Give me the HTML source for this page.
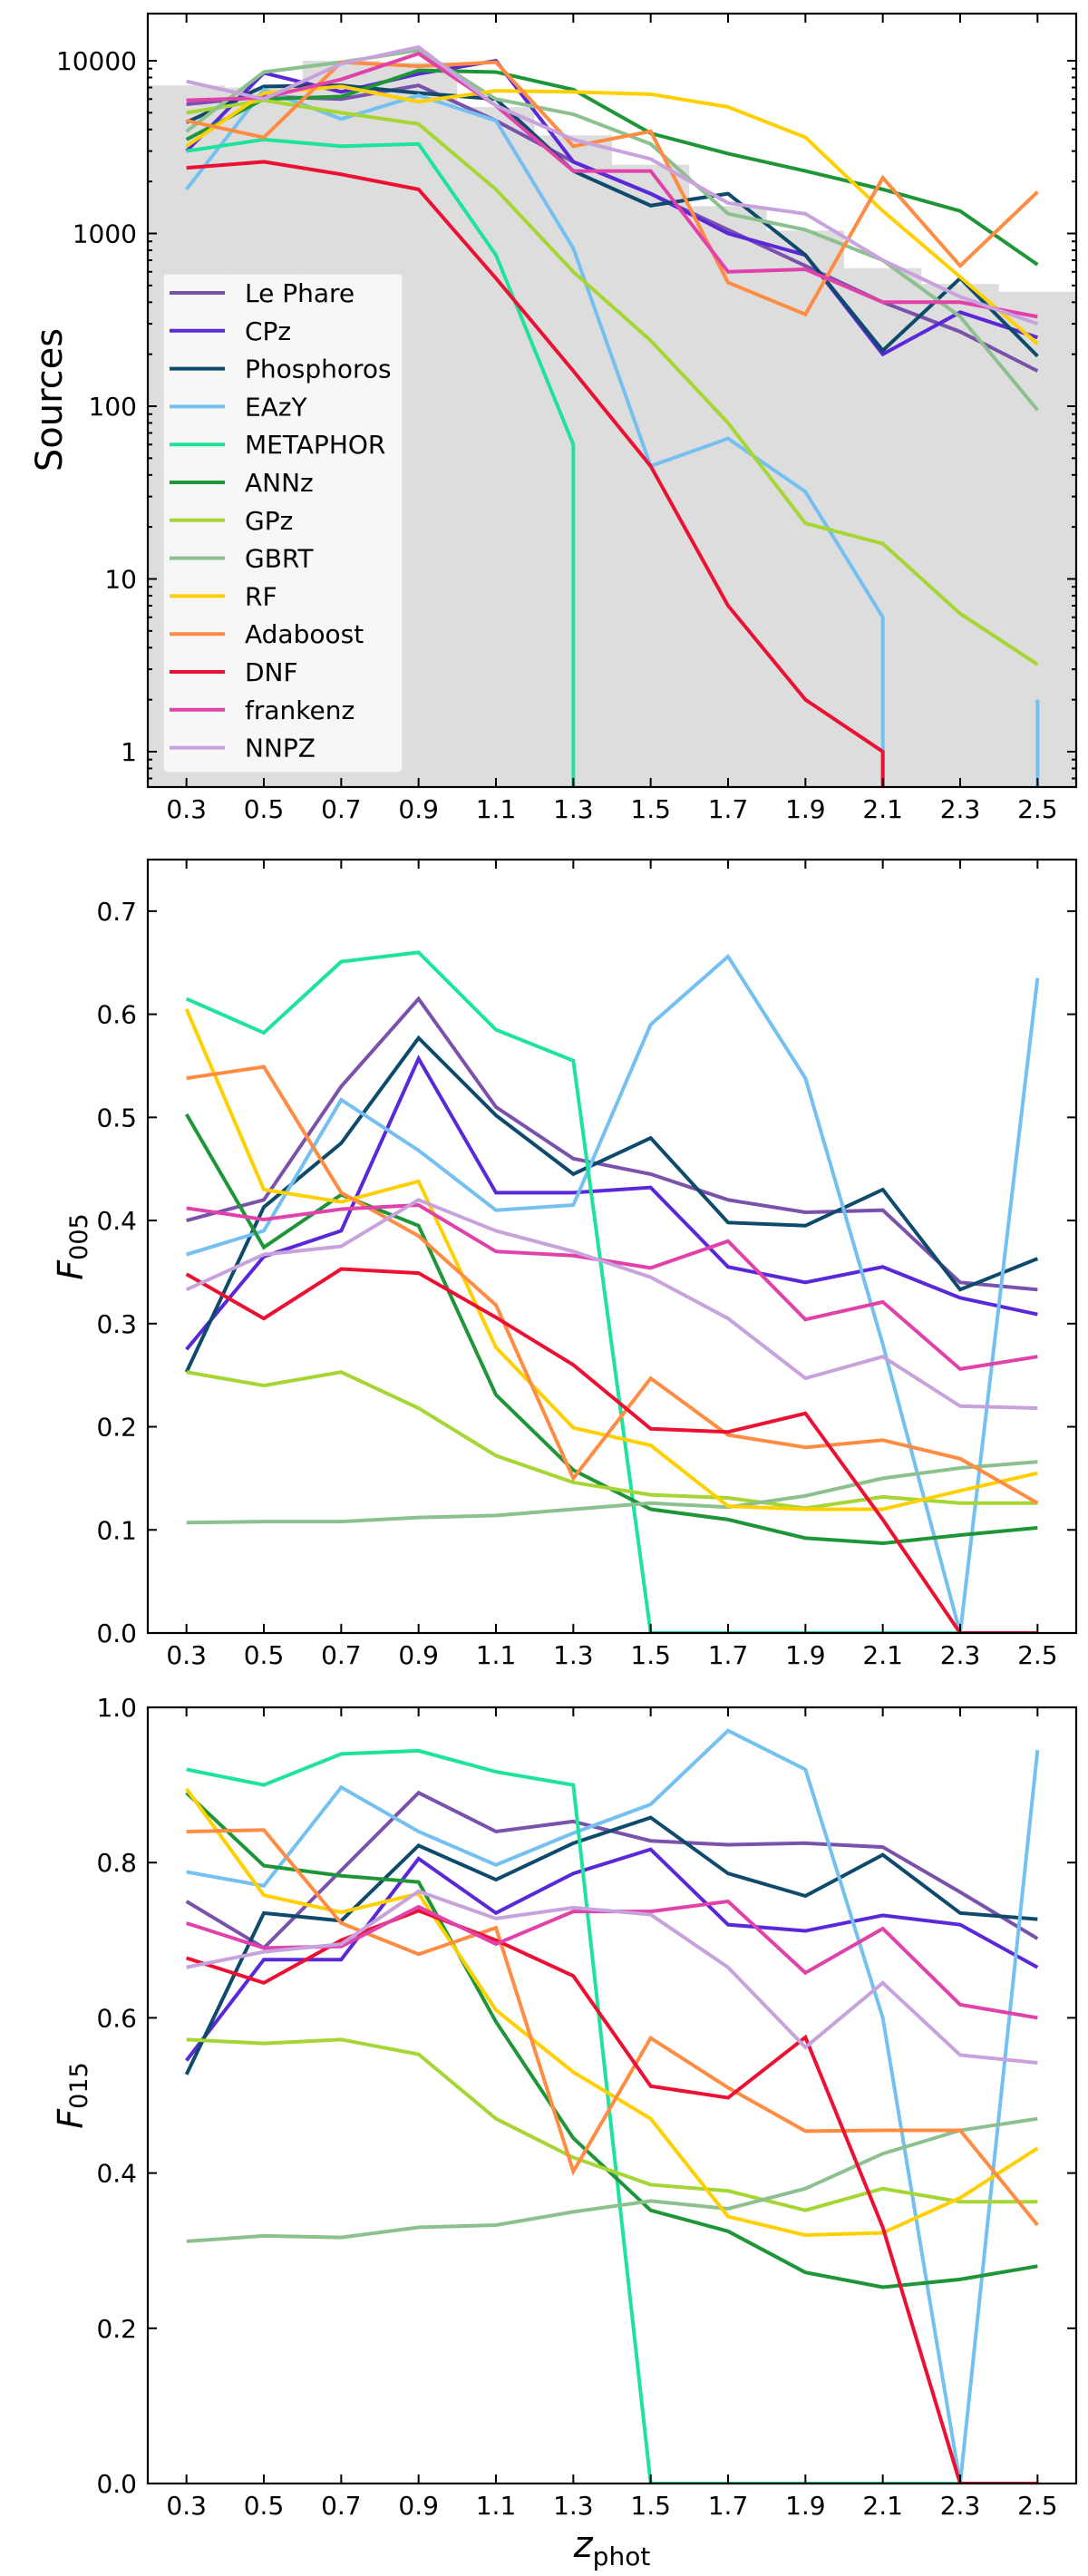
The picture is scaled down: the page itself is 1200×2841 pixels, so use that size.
<!DOCTYPE html>
<html><head><meta charset="utf-8"><style>
html,body{margin:0;padding:0;background:#fff;}
svg{display:block;font-family:"DejaVu Sans","Liberation Sans",sans-serif;}
</style></head><body>
<svg id="fig" width="1200" height="2841" viewBox="0 0 1200 2841" xmlns="http://www.w3.org/2000/svg">
<defs>
<clipPath id="c1"><rect x="163" y="15" width="1024" height="853"/></clipPath>
<clipPath id="c2"><rect x="163" y="948" width="1024" height="853"/></clipPath>
<clipPath id="c3"><rect x="163" y="1883" width="1024" height="856"/></clipPath>
</defs>
<g id="g1"></g>
<g id="g2"></g>
<g id="g3"></g>
<text x="55" y="441" font-size="40" text-anchor="middle" transform="rotate(-90 55 441)" dominant-baseline="central">Sources</text>
<text x="78" y="1375" font-size="38" text-anchor="middle" transform="rotate(-90 78 1375)" dominant-baseline="central"><tspan font-style="italic">F</tspan><tspan font-size="27" dy="9">005</tspan></text>
<text x="78" y="2311" font-size="38" text-anchor="middle" transform="rotate(-90 78 2311)" dominant-baseline="central"><tspan font-style="italic">F</tspan><tspan font-size="27" dy="9">015</tspan></text>
<text x="675" y="2820" font-size="40" text-anchor="middle"><tspan font-style="italic">z</tspan><tspan font-size="28" dy="9">phot</tspan></text>
</svg>
<script>
const zs = [0.3,0.5,0.7,0.9,1.1,1.3,1.5,1.7,1.9,2.1,2.3,2.5];
const xTickLabels = ["0.3","0.5","0.7","0.9","1.1","1.3","1.5","1.7","1.9","2.1","2.3","2.5"];
const names = ["Le Phare","CPz","Phosphoros","EAzY","METAPHOR","ANNz","GPz","GBRT","RF","Adaboost","DNF","frankenz","NNPZ"];
const colors = ["#7b52ab","#5a28d8","#0d4a6b","#74c0f0","#1ee39a","#1e9638","#a6d633","#8cc18f","#ffd000","#ff8c42","#ec1132","#e042aa","#c8a2dd"];
const histEdges = [0.2,0.4,0.6,0.8,1.0,1.2,1.4,1.6,1.8,2.0,2.2,2.4,2.6];
const histCounts = [7200,7000,10000,9800,5400,3700,2500,1440,1040,630,510,460];
const srcLePhare = [5600,6200,6000,7200,4500,2600,1700,1050,650,400,270,160];
const srcCPz = [3000,8500,6600,8400,10000,2600,1700,1000,750,200,350,250];
const srcPhosphoros = [4400,7100,7200,6500,6000,2300,1450,1700,750,210,550,195];
const srcEAzY = [1800,6800,4600,6300,4500,820,45,65,32,6,0,2];
const srcMETAPHOR = [3000,3500,3200,3300,750,60,0,0,0,0,0,0];
const srcANNz = [3500,6000,6200,8800,8600,6800,3800,2900,2300,1800,1350,660];
const srcGPz = [5000,5900,5000,4300,1800,600,240,80,21,16,6.3,3.2];
const srcGBRT = [3900,8600,9800,11500,6000,4900,3300,1300,1050,700,330,95];
const srcRF = [3200,6500,7100,5800,6700,6600,6400,5400,3600,1350,560,230];
const srcAdaboost = [4500,3600,9800,9300,9800,3200,3900,520,340,2100,650,1740];
const srcDNF = [2400,2600,2200,1800,550,160,45,7,2,1,0,0];
const srcFrankenz = [5900,6100,7800,11000,5500,2300,2300,600,620,400,400,330];
const srcNNPZ = [7600,6000,9600,12000,5500,3500,2700,1500,1300,700,430,300];
const f005LePhare = [0.40,0.42,0.53,0.615,0.51,0.46,0.445,0.42,0.408,0.41,0.34,0.333];
const f005CPz = [0.275,0.365,0.39,0.557,0.427,0.427,0.432,0.355,0.34,0.355,0.325,0.309];
const f005Phosphoros = [0.253,0.413,0.475,0.577,0.502,0.445,0.48,0.398,0.395,0.43,0.333,0.363];
const f005EAzY = [0.367,0.39,0.517,0.468,0.41,0.415,0.59,0.656,0.538,0.28,0.0,0.635];
const f005METAPHOR = [0.615,0.582,0.651,0.66,0.585,0.555,0,0,0,0,0,0];
const f005ANNz = [0.503,0.374,0.425,0.395,0.231,0.158,0.12,0.11,0.092,0.087,0.095,0.102];
const f005GPz = [0.253,0.24,0.253,0.218,0.172,0.146,0.134,0.131,0.121,0.132,0.126,0.126];
const f005GBRT = [0.107,0.108,0.108,0.112,0.114,0.12,0.126,0.122,0.133,0.15,0.16,0.166];
const f005RF = [0.605,0.43,0.418,0.438,0.277,0.199,0.182,0.123,0.12,0.12,0.138,0.155];
const f005Adaboost = [0.538,0.549,0.427,0.385,0.318,0.15,0.247,0.192,0.18,0.187,0.169,0.126];
const f005DNF = [0.348,0.305,0.353,0.349,0.306,0.26,0.198,0.195,0.213,0.11,0,0];
const f005Frankenz = [0.412,0.401,0.411,0.415,0.37,0.366,0.354,0.38,0.304,0.321,0.256,0.268];
const f005NNPZ = [0.333,0.367,0.375,0.42,0.39,0.37,0.345,0.305,0.247,0.268,0.22,0.218];
const f015LePhare = [0.75,0.69,0.79,0.89,0.84,0.853,0.828,0.823,0.825,0.82,0.762,0.702];
const f015CPz = [0.545,0.675,0.675,0.805,0.735,0.786,0.817,0.72,0.712,0.732,0.72,0.665];
const f015Phosphoros = [0.527,0.735,0.725,0.822,0.778,0.825,0.858,0.786,0.757,0.81,0.735,0.727];
const f015EAzY = [0.788,0.77,0.897,0.84,0.797,0.838,0.875,0.97,0.92,0.6,0.0,0.945];
const f015METAPHOR = [0.92,0.90,0.94,0.944,0.917,0.9,0,0,0,0,0,0];
const f015ANNz = [0.89,0.796,0.783,0.775,0.595,0.445,0.352,0.325,0.272,0.253,0.263,0.28];
const f015GPz = [0.572,0.567,0.572,0.553,0.47,0.42,0.385,0.377,0.352,0.38,0.363,0.363];
const f015GBRT = [0.312,0.319,0.317,0.33,0.333,0.35,0.364,0.354,0.38,0.425,0.455,0.47];
const f015RF = [0.895,0.758,0.736,0.76,0.61,0.53,0.47,0.344,0.32,0.323,0.368,0.432];
const f015Adaboost = [0.84,0.842,0.722,0.682,0.716,0.402,0.574,0.51,0.454,0.455,0.455,0.333];
const f015DNF = [0.677,0.645,0.7,0.738,0.7,0.654,0.512,0.497,0.575,0.33,0,0];
const f015Frankenz = [0.722,0.69,0.692,0.743,0.695,0.737,0.737,0.75,0.658,0.715,0.617,0.6];
const f015NNPZ = [0.665,0.685,0.695,0.763,0.728,0.742,0.733,0.665,0.562,0.645,0.552,0.542];
const yTicks005 = [0.0,0.1,0.2,0.3,0.4,0.5,0.6,0.7];
const yTicks015 = [0.0,0.2,0.4,0.6,0.8,1.0];
const logTicks = [1,10,100,1000,10000];

const srcSeries = [srcLePhare,srcCPz,srcPhosphoros,srcEAzY,srcMETAPHOR,srcANNz,srcGPz,srcGBRT,srcRF,srcAdaboost,srcDNF,srcFrankenz,srcNNPZ];
const f005Series = [f005LePhare,f005CPz,f005Phosphoros,f005EAzY,f005METAPHOR,f005ANNz,f005GPz,f005GBRT,f005RF,f005Adaboost,f005DNF,f005Frankenz,f005NNPZ];
const f015Series = [f015LePhare,f015CPz,f015Phosphoros,f015EAzY,f015METAPHOR,f015ANNz,f015GPz,f015GBRT,f015RF,f015Adaboost,f015DNF,f015Frankenz,f015NNPZ];

const NS = "http://www.w3.org/2000/svg";
const L = 163, R = 1187;
const X = v => L + (v - 0.2) * (R - L) / 2.4;
const P1 = {top:15, bot:868};
const P2 = {top:948, bot:1801};
const P3 = {top:1883, bot:2739};
const Y1 = v => 67 + (4 - Math.log10(v)) * 190.5;
const Y2 = v => P2.bot - v * (P2.bot - P2.top) / 0.75;
const Y3 = v => P3.bot - v * (P3.bot - P3.top) / 1.0;

function mk(tag, attrs, parent) {
  const e = document.createElementNS(NS, tag);
  for (const k in attrs) e.setAttribute(k, attrs[k]);
  parent.appendChild(e);
  return e;
}

function axesFrame(g, P, name) {
  // x ticks (bottom and top) and labels
  zs.forEach((z, i) => {
    const x = X(z);
    mk("line", {x1:x, x2:x, y1:P.bot, y2:P.bot-10, stroke:"#000", "stroke-width":2}, g);
    mk("line", {x1:x, x2:x, y1:P.top, y2:P.top+10, stroke:"#000", "stroke-width":2}, g);
    const t = mk("text", {x:x, y:P.bot+34, "font-size":28, "text-anchor":"middle"}, g);
    t.textContent = xTickLabels[i];
    
    
  });
  const r = mk("rect", {x:L, y:P.top, width:R-L, height:P.bot-P.top, fill:"none", stroke:"#000", "stroke-width":2.2}, g);
  
  
}

function yTick(g, y, label, len) {
  mk("line", {x1:L, x2:L+len, y1:y, y2:y, stroke:"#000", "stroke-width":2}, g);
  mk("line", {x1:R, x2:R-len, y1:y, y2:y, stroke:"#000", "stroke-width":2}, g);
  if (label !== null) {
    const t = mk("text", {x:151, y:y+10, "font-size":28, "text-anchor":"end"}, g);
    t.textContent = label;
    
    
  }
}

/* ---------- Panel 1 ---------- */
const g1 = document.getElementById("g1");
const h = mk("g", {"clip-path":"url(#c1)"}, g1);
histCounts.forEach((c, i) => {
  const x0 = X(histEdges[i]), x1 = X(histEdges[i+1]);
  const b = mk("rect", {x:x0, y:Y1(c), width:x1-x0, height:P1.bot+5-Y1(c), fill:"#dddddd"}, h);
  
  
});
const lines1 = mk("g", {"clip-path":"url(#c1)"}, g1);
srcSeries.forEach((s, k) => {
  let d = "", pen = false;
  for (let i = 0; i < s.length; i++) {
    const x = X(zs[i]);
    if (s[i] > 0) {
      const y = Y1(s[i]);
      d += (pen ? "L" : "M") + x + " " + y + " ";
      if (i > 0 && s[i-1] <= 0) { d += "M" + x + " " + (P1.bot+20) + " L" + x + " " + y + " "; }
      pen = true;
      if (i < s.length-1 && s[i+1] <= 0) { d += "L" + x + " " + (P1.bot+20) + " "; pen = false; }
    } else { pen = false; }
  }
  const p = mk("path", {d:d, fill:"none", stroke:colors[k], "stroke-width":4, "stroke-linejoin":"miter"}, lines1);
  
  
});
axesFrame(g1, P1, "sources-axes");
logTicks.forEach(v => yTick(g1, Y1(v), String(v), 10));
for (let e = -1; e <= 4; e++) for (let m = 2; m <= 9; m++) {
  const v = m * Math.pow(10, e), y = Y1(v);
  if (y > P1.top + 1 && y < P1.bot - 1) yTick(g1, y, null, 5);
}
// legend
const leg = mk("g", {}, g1);


mk("rect", {x:180, y:302, width:264, height:550, rx:5, fill:"#f8f8f8", "fill-opacity":0.95, stroke:"#e2e2e2", "stroke-width":1.5}, leg);
names.forEach((n, k) => {
  const y = 323 + k * 41.8;
  const e = mk("g", {}, leg);
  
  
  mk("line", {x1:187, x2:248, y1:y, y2:y, stroke:colors[k], "stroke-width":4}, e);
  const t = mk("text", {x:270, y:y+10, "font-size":28}, e);
  t.textContent = n;
});

/* ---------- Panels 2 and 3 ---------- */
function linPanel(gid, clip, P, Y, series, ticks, prefix, dec) {
  const g = document.getElementById(gid);
  const lg = mk("g", {"clip-path":"url(#" + clip + ")"}, g);
  series.forEach((s, k) => {
    const d = s.map((v, i) => (i ? "L" : "M") + X(zs[i]) + " " + Y(v)).join(" ");
    const p = mk("path", {d:d, fill:"none", stroke:colors[k], "stroke-width":4}, lg);
    
    
  });
  axesFrame(g, P, prefix + "-axes");
  ticks.forEach(v => yTick(g, Y(v), v.toFixed(1), 10));
}
linPanel("g2", "c2", P2, Y2, f005Series, yTicks005, "f005");
linPanel("g3", "c3", P3, Y3, f015Series, yTicks015, "f015");
</script>
</body></html>
